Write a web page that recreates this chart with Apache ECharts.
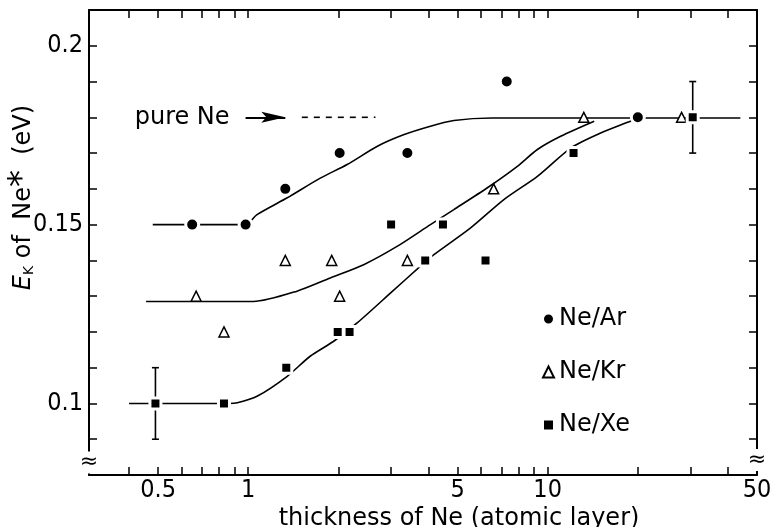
<!DOCTYPE html>
<html>
<head>
<meta charset="utf-8">
<script src="https://cdn.jsdelivr.net/npm/echarts@6/dist/echarts.min.js"></script>
<style>
  html, body { margin: 0; padding: 0; background: #fff; }
  #grid { width: 772px; height: 527px; }
</style>
</head>
<body>
<div id="grid"></div>
<script>
// measured points, x = thickness (atomic layers), y = E_K (eV)
const arData = [[0.65, 0.15], [0.98, 0.15], [1.33, 0.16], [2.02, 0.17], [3.4, 0.17], [7.3, 0.19], [20, 0.18]];
const krData = [[0.67, 0.13], [0.83, 0.12], [1.33, 0.14], [1.9, 0.14], [2.02, 0.13], [3.4, 0.14], [6.6, 0.16], [13.2, 0.18], [28, 0.18]];
const xeData = [[0.49, 0.1], [0.83, 0.1], [1.34, 0.11], [1.99, 0.12], [2.18, 0.12], [3.0, 0.15], [3.9, 0.14], [4.47, 0.15], [6.2, 0.14], [12.2, 0.17], [30.5, 0.18]];
const xeErrors = [[0.49, 0.09, 0.11], [30.5, 0.17, 0.19]];

// guide curves drawn by hand in the figure
const arCurve = [[0.48, 0.15], [0.98, 0.15], [1.07, 0.1528], [1.35, 0.1575], [1.74, 0.163], [2.14, 0.1668], [2.7, 0.1719], [3.3, 0.1751], [4.06, 0.1775], [4.86, 0.1791], [6.5, 0.1798], [44, 0.1798]];
const krCurve = [[0.456, 0.1285], [1.04, 0.1285], [1.455, 0.1314], [1.88, 0.1351], [2.43, 0.1388], [3.14, 0.1439], [4.06, 0.15], [4.86, 0.1542], [6.29, 0.1603], [7.92, 0.1663], [9.24, 0.171], [11.05, 0.1747], [14.3, 0.1789]];
const xeCurve = [[0.4, 0.1], [0.86, 0.1], [0.92, 0.1002], [1.07, 0.102], [1.35, 0.1076], [1.61, 0.1132], [1.93, 0.1174], [2.31, 0.1225], [2.99, 0.1309], [3.76, 0.1384], [4.17, 0.1416], [5.53, 0.1491], [7.14, 0.157], [9.24, 0.1635], [11.94, 0.1714], [15.04, 0.1756], [18.5, 0.1786], [20, 0.1798]];

// "pure Ne" marker: arrow shaft, arrow tip, dashed level
const pureNeArrow = [[0.98, 0.18], [1.33, 0.18]];
const pureNeTip = [[1.33, 0.18]];
const pureNeDash = [[1.51, 0.18], [2.66, 0.18]];

const xLabelValues = [0.5, 1, 5, 10, 50];
const xTickValues = [0.4, 0.5, 0.6, 0.7, 0.8, 0.9, 1, 2, 3, 4, 5, 6, 7, 8, 9, 10, 20, 30, 40];
const yLabelValues = [0.1, 0.15, 0.2];
const yTickValues = [0.09, 0.1, 0.11, 0.12, 0.13, 0.14, 0.15, 0.16, 0.17, 0.18, 0.19, 0.2];

const font = 'DejaVu Sans';
const numFont = "'Liberation Sans Narrow', 'DejaVu Sans Condensed', sans-serif";
const xMin = 0.294;
const xMax = 50;
const yMin = 0.08;
const yMax = 0.21;

const myChart = echarts.init(document.getElementById('grid'));

const axisLine = { show: true, onZero: false, lineStyle: { color: '#000', width: 2 } };
const tickStyle = { color: '#000', width: 1.5 };

const curveStyle = { color: '#000', width: 1.6 };

function curveSeries(name, data) {
  return {
    name: name,
    type: 'line',
    data: data,
    smooth: 0.25,
    showSymbol: false,
    symbol: 'none',
    silent: true,
    lineStyle: curveStyle,
    z: 2,
  };
}

const option = {
  animation: false,
  backgroundColor: '#fff',
  grid: { left: 89, right: 15, top: 10, bottom: 52, outerBoundsMode: 'none', containLabel: false },
  legend: {
    orient: 'vertical',
    left: 537,
    top: 302,
    itemGap: 29,
    itemWidth: 11,
    itemHeight: 11,
    selectedMode: false,
    data: ['Ne/Ar', 'Ne/Kr', 'Ne/Xe'],
    textStyle: { fontFamily: font, fontSize: 24, color: '#000', lineHeight: 24 },
  },
  xAxis: [
    {
      type: 'log',
      logBase: 10,
      min: xMin,
      max: xMax,
      position: 'bottom',
      axisLine: axisLine,
      axisTick: { inside: true, length: 8, customValues: xTickValues, lineStyle: tickStyle },
      axisLabel: {
        customValues: xLabelValues,
        margin: 3,
        fontFamily: numFont,
        fontSize: 25,
        color: '#000',
        formatter: (v) => String(v),
      },
      splitLine: { show: false },
      name: 'thickness of Ne (atomic layer)',
      nameLocation: 'middle',
      nameGap: 32,
      nameMoveOverlap: false,
      nameTextStyle: { fontFamily: font, fontSize: 24, color: '#000', padding: [0, 0, 0, 72] },
    },
    {
      type: 'log',
      logBase: 10,
      min: xMin,
      max: xMax,
      position: 'top',
      axisLine: axisLine,
      axisTick: { inside: true, length: 8, customValues: xTickValues, lineStyle: tickStyle },
      axisLabel: { show: false },
      splitLine: { show: false },
    },
  ],
  yAxis: [
    {
      type: 'value',
      min: yMin,
      max: yMax,
      interval: 0.01,
      position: 'left',
      axisLine: axisLine,
      axisTick: { inside: true, length: 8, customValues: yTickValues, lineStyle: tickStyle },
      axisLabel: {
        customValues: yLabelValues,
        margin: 6,
        fontFamily: numFont,
        fontSize: 25,
        color: '#000',
      },
      splitLine: { show: false },
      name: '{e|E}{k|K}{t| of  Ne}{s|*}{t|  (eV)}',
      nameLocation: 'middle',
      nameGap: 53,
      nameMoveOverlap: false,
      nameTextStyle: {
        padding: [0, 0, 0, 90],
        rich: {
          e: { fontFamily: font, fontSize: 24, fontStyle: 'italic', color: '#000', verticalAlign: 'bottom', lineHeight: 30 },
          k: { fontFamily: font, fontSize: 14, color: '#000', verticalAlign: 'bottom', lineHeight: 26 },
          t: { fontFamily: font, fontSize: 24, color: '#000', verticalAlign: 'bottom', lineHeight: 30 },
          s: { fontFamily: font, fontSize: 34, color: '#000', verticalAlign: 'top', lineHeight: 30 },
        },
      },
    },
    {
      type: 'value',
      min: yMin,
      max: yMax,
      interval: 0.01,
      position: 'right',
      axisLine: axisLine,
      axisTick: { inside: true, length: 8, customValues: yTickValues, lineStyle: tickStyle },
      axisLabel: { show: false },
      splitLine: { show: false },
    },
  ],
  series: [
    curveSeries('arCurve', arCurve),
    curveSeries('krCurve', krCurve),
    curveSeries('xeCurve', xeCurve),
    {
      name: 'pureNe',
      type: 'line',
      data: pureNeDash,
      symbol: 'none',
      silent: true,
      lineStyle: { color: '#000', width: 1.6, type: [6, 6] },
      markLine: {
        silent: true,
        animation: false,
        symbol: ['none', 'none'],
        lineStyle: { color: '#000', width: 2, type: 'solid' },
        label: {
          show: true,
          position: 'start',
          distance: 16,
          formatter: 'pure Ne',
          fontFamily: font,
          fontSize: 24,
          color: '#000',
        },
        data: [[{ coord: pureNeArrow[0] }, { coord: pureNeArrow[1] }]],
      },
    },
    {
      name: 'pureNeTip',
      type: 'scatter',
      data: pureNeTip,
      silent: true,
      symbol: 'path://M0,0 L24,5.5 L0,11 L5,5.5 Z',
      symbolSize: [24, 11],
      symbolOffset: [-12, 0],
      itemStyle: { color: '#000', opacity: 1 },
      z: 4,
    },
    {
      name: 'xeErrors',
      type: 'custom',
      data: xeErrors,
      silent: true,
      encode: { x: 0, y: [1, 2] },
      z: 3,
      renderItem: (params, api) => {
        const x = api.value(0);
        const lo = api.coord([x, api.value(1)]);
        const hi = api.coord([x, api.value(2)]);
        const w = 3.5;
        const style = { stroke: '#000', lineWidth: 1.6 };
        return {
          type: 'group',
          children: [
            { type: 'line', shape: { x1: lo[0], y1: lo[1], x2: hi[0], y2: hi[1] }, style: style },
            { type: 'line', shape: { x1: lo[0] - w, y1: lo[1], x2: lo[0] + w, y2: lo[1] }, style: style },
            { type: 'line', shape: { x1: hi[0] - w, y1: hi[1], x2: hi[0] + w, y2: hi[1] }, style: style },
          ],
        };
      },
    },
    {
      name: 'Ne/Ar',
      type: 'scatter',
      data: arData,
      symbol: 'circle',
      symbolSize: 13,
      itemStyle: { color: '#000', borderColor: '#fff', borderWidth: 3, opacity: 1 },
      z: 5,
    },
    {
      name: 'Ne/Kr',
      type: 'scatter',
      data: krData,
      symbol: 'triangle',
      symbolSize: 10,
      itemStyle: { color: '#fff', borderColor: '#000', borderWidth: 1.5, opacity: 1 },
      z: 5,
    },
    {
      name: 'Ne/Xe',
      type: 'scatter',
      data: xeData,
      symbol: 'rect',
      symbolSize: 11,
      itemStyle: { color: '#000', borderColor: '#fff', borderWidth: 3, opacity: 1 },
      z: 5,
    },
  ],
};

myChart.setOption(option);

// axis break marks at the bottom of both y axes
const leftBreak = myChart.convertToPixel({ xAxisIndex: 0, yAxisIndex: 0 }, [xMin, 0.0835]);
const rightBreak = myChart.convertToPixel({ xAxisIndex: 0, yAxisIndex: 0 }, [xMax, 0.0842]);
function breakMark(p) {
  return {
    type: 'text',
    x: p[0],
    y: p[1],
    z: 10,
    style: {
      text: '≈',
      fontFamily: font,
      fontSize: 22,
      fill: '#000',
      align: 'center',
      verticalAlign: 'middle',
      backgroundColor: '#fff',
    },
  };
}
myChart.setOption({ graphic: [breakMark(leftBreak), breakMark(rightBreak)] });
</script>
</body>
</html>
